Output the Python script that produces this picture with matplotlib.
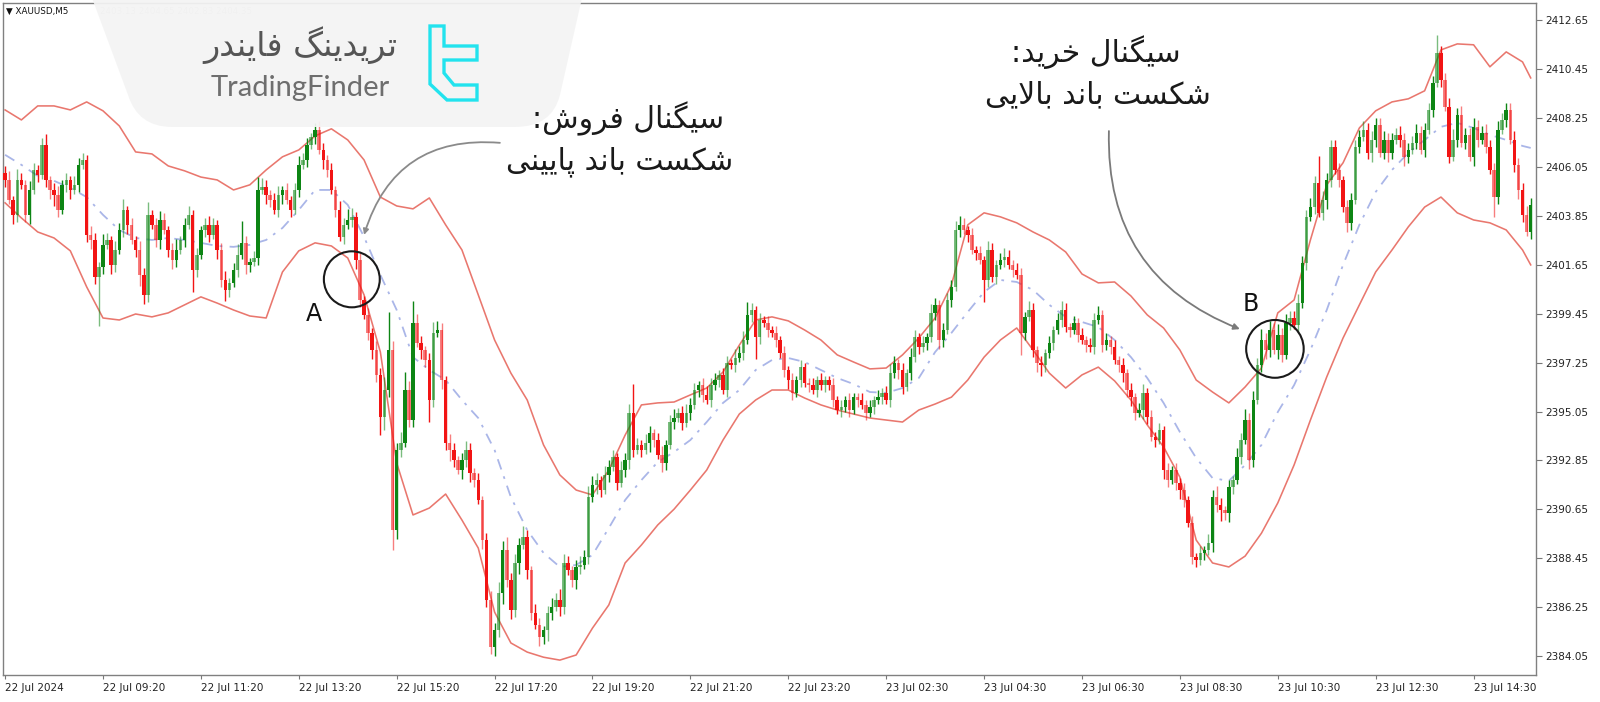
import matplotlib
matplotlib.use("Agg")
import matplotlib.pyplot as plt
import numpy as np
from matplotlib.patches import Ellipse, PathPatch, Polygon
from matplotlib.path import Path

# XAUUSD M5 bars (close of each bar, open = previous close)
first_open = 2405.80
closes = [
    2405.47, 2404.57, 2403.90, 2405.47, 2405.25, 2403.90, 2405.02, 2405.92, 2405.70, 2407.05,
    2405.47, 2405.02, 2404.80, 2404.12, 2405.25, 2405.47, 2405.02, 2405.25, 2406.15, 2406.37,
    2403.00, 2402.77, 2401.10, 2401.56, 2402.55,
    2402.77, 2401.65, 2402.32, 2403.22, 2404.12, 2403.45, 2402.77, 2402.32, 2401.20, 2400.30,
    2403.90, 2403.45, 2402.77, 2403.67, 2403.22, 2402.32, 2401.87, 2402.32, 2402.77, 2403.45,
    2403.90, 2401.42, 2402.10, 2403.22, 2403.45,
    2403.00, 2403.45, 2402.32, 2400.97, 2400.52, 2400.84, 2401.42, 2402.10, 2402.64, 2401.65,
    2401.78, 2401.96, 2405.02, 2405.16, 2404.80, 2404.57, 2404.12, 2404.80, 2405.02, 2404.57,
    2404.12, 2405.02, 2406.15, 2406.37, 2407.05,
    2407.40, 2407.72, 2406.82, 2406.37, 2405.92, 2405.02, 2404.12, 2402.91, 2403.45, 2403.67,
    2403.81, 2401.87, 2400.07, 2399.40, 2398.59, 2397.82, 2396.70, 2394.81, 2396.02, 2397.82,
    2389.72, 2393.32, 2393.64, 2396.02, 2394.67,
    2399.04, 2398.14, 2397.82, 2397.37, 2395.57, 2398.59, 2398.72, 2396.47, 2393.64, 2393.32,
    2392.87, 2392.42, 2392.87, 2393.32, 2392.29, 2391.97, 2391.07, 2389.27, 2386.57, 2384.46,
    2385.22, 2386.89, 2388.82, 2387.47, 2386.12,
    2388.24, 2389.05, 2389.41, 2387.92, 2385.99, 2385.45, 2384.90, 2385.22, 2385.99, 2386.26,
    2386.57, 2386.26, 2388.24, 2387.92, 2387.47, 2388.06, 2388.15, 2388.51, 2391.20, 2391.75,
    2391.97, 2391.52, 2392.20, 2392.56, 2393.00,
    2391.84, 2392.42, 2392.87, 2394.99, 2393.32, 2393.55, 2393.32, 2393.64, 2394.08, 2393.77,
    2393.10, 2392.73, 2393.55, 2394.58, 2394.76, 2394.99, 2394.54, 2394.99, 2395.35, 2396.02,
    2396.24, 2395.80, 2395.57, 2396.24, 2396.47,
    2396.70, 2396.02, 2397.23, 2397.15, 2397.46, 2397.68, 2398.27, 2399.40, 2399.62, 2398.40,
    2399.17, 2399.04, 2398.72, 2398.59, 2398.27, 2397.68, 2396.92, 2396.47, 2395.89, 2396.47,
    2397.05, 2396.34, 2396.24, 2396.02, 2396.47,
    2396.24, 2396.47, 2396.24, 2395.57, 2395.12, 2395.25, 2395.57, 2395.12, 2395.70, 2395.57,
    2395.35, 2394.99, 2395.25, 2395.57, 2395.70, 2395.89, 2395.57, 2396.78, 2397.23, 2396.92,
    2396.16, 2396.78, 2397.50, 2398.40, 2397.95,
    2398.14, 2398.40, 2399.49, 2399.85, 2398.27, 2398.72, 2400.07, 2400.66, 2403.22, 2403.45,
    2403.22, 2403.00, 2402.32, 2402.19, 2401.87, 2400.97, 2402.32, 2401.10, 2401.65, 2401.87,
    2402.01, 2401.65, 2401.42, 2401.20, 2398.59,
    2399.31, 2399.62, 2397.82, 2397.23, 2397.15, 2397.68, 2398.14, 2398.72, 2399.17, 2399.62,
    2398.85, 2398.72, 2399.04, 2398.50, 2398.27, 2398.04, 2397.95, 2399.17, 2399.40, 2398.04,
    2398.27, 2397.95, 2397.37, 2397.15, 2396.78,
    2396.02, 2395.70, 2394.99, 2395.12, 2395.89, 2394.81, 2393.91, 2393.77, 2394.22, 2392.42,
    2391.97, 2392.42, 2391.84, 2391.52, 2391.07, 2390.04, 2388.51, 2388.37, 2388.69, 2388.82,
    2389.14, 2391.20, 2390.85, 2390.62, 2390.49,
    2391.66, 2391.97, 2393.00, 2393.77, 2394.67, 2392.87, 2395.57, 2397.15, 2398.27, 2397.82,
    2398.72, 2397.82, 2398.50, 2397.60, 2399.04, 2399.26, 2398.95, 2399.93, 2401.74, 2403.81,
    2404.25, 2405.34, 2403.99, 2404.57, 2405.47,
    2406.96, 2405.92, 2405.47, 2404.25, 2403.54, 2404.57, 2406.96, 2407.40, 2407.72, 2406.69,
    2407.27, 2407.95, 2406.69, 2407.27, 2406.69, 2407.27, 2407.50, 2407.27, 2406.51, 2406.82,
    2407.14, 2407.59, 2406.82, 2407.72, 2408.62,
    2409.83, 2411.19, 2409.97, 2408.76, 2406.51, 2407.27, 2408.40, 2407.14, 2407.50, 2406.51,
    2407.86, 2407.27, 2407.59, 2406.96, 2405.92, 2404.70, 2407.72, 2408.17, 2408.62, 2407.27,
    2406.15, 2405.02, 2403.90, 2403.13, 2404.35,
]

# wick lengths above / below the body (price units)
upper_wick = [
    0.3, 0.4, 0.2, 0.5, 0.3, 0.2, 0.4, 0.3, 0.2, 0.3, 0.5, 0.2, 0.3, 0.4, 0.2, 0.3, 0.2, 0.4, 0.3, 0.3, 0.2, 0.4, 0.3, 0.2, 0.5,
    0.3, 0.2, 0.4, 0.3, 0.5, 0.2, 0.3, 0.2, 0.4, 0.3, 0.6, 0.2, 0.3, 0.4, 0.3, 0.2, 0.3, 0.5, 0.2, 0.3, 0.4, 0.2, 0.3, 0.2, 0.3,
    0.4, 0.3, 0.2, 0.3, 0.4, 0.2, 0.3, 0.5, 1.0, 0.3, 0.2, 0.3, 0.6, 0.4, 0.3, 0.2, 0.3, 0.4, 0.2, 0.3, 0.2, 0.3, 0.4, 0.3, 0.3,
    0.2, 0.3, 0.4, 0.3, 0.2, 0.3, 0.2, 0.4, 0.3, 0.5, 0.4, 0.2, 0.3, 0.2, 0.3, 0.2, 0.4, 0.3, 0.6, 1.7, 0.4, 0.3, 0.5, 0.8, 0.4,
    1.0, 0.4, 0.3, 0.2, 0.3, 0.5, 0.4, 0.3, 0.2, 0.4, 0.3, 0.2, 0.3, 0.4, 0.3, 0.2, 0.3, 0.2, 0.3, 0.4, 0.3, 0.5, 0.4, 0.6, 0.3,
    0.4, 0.3, 0.5, 0.3, 0.2, 0.4, 0.3, 0.2, 0.3, 0.4, 0.3, 0.5, 0.4, 0.3, 0.2, 0.3, 0.4, 0.3, 0.5, 0.4, 0.3, 0.2, 0.4, 0.3, 0.3,
    0.2, 0.4, 0.3, 0.4, 1.3, 0.3, 0.2, 0.4, 0.3, 0.2, 0.3, 0.4, 0.2, 0.3, 0.4, 0.2, 0.3, 0.4, 0.3, 0.3, 0.2, 0.3, 0.4, 0.3, 0.3,
    0.2, 0.3, 0.3, 0.2, 0.4, 0.3, 0.4, 0.6, 0.3, 0.2, 0.3, 0.2, 0.3, 0.2, 0.3, 0.2, 0.3, 0.2, 0.3, 0.2, 0.3, 0.2, 0.2, 0.3, 0.2,
    0.3, 0.2, 0.2, 0.3, 0.2, 0.3, 0.2, 0.3, 0.2, 0.2, 0.3, 0.2, 0.3, 0.2, 0.3, 0.2, 0.3, 0.4, 0.3, 0.2, 0.3, 0.2, 0.4, 0.3, 0.2,
    0.3, 0.2, 0.4, 0.3, 0.2, 0.3, 0.3, 0.3, 0.4, 0.4, 0.3, 0.2, 0.3, 0.2, 0.3, 0.2, 0.4, 0.3, 0.2, 0.3, 0.4, 0.3, 0.2, 0.3, 0.3,
    0.2, 0.4, 0.3, 0.2, 0.3, 0.2, 0.3, 0.2, 0.3, 0.4, 0.3, 0.2, 0.3, 0.2, 0.3, 0.2, 0.3, 0.3, 0.4, 0.2, 0.3, 0.2, 0.3, 0.2, 0.3,
    0.2, 0.3, 0.2, 0.3, 0.4, 0.2, 0.3, 0.2, 0.3, 0.2, 0.3, 0.2, 0.3, 0.2, 0.3, 0.2, 0.3, 0.2, 0.3, 0.2, 0.4, 0.3, 0.5, 0.3, 0.2,
    0.3, 0.2, 0.4, 0.3, 0.5, 0.3, 0.4, 0.3, 0.5, 0.3, 0.4, 0.3, 0.5, 0.3, 0.4, 0.3, 0.3, 0.4, 0.3, 0.3, 0.4, 0.3, 1.2, 0.4, 0.3,
    0.3, 0.3, 0.3, 0.2, 0.3, 0.3, 0.3, 0.3, 0.4, 0.3, 0.4, 0.3, 0.3, 0.4, 0.3, 0.3, 0.3, 0.4, 0.3, 0.3, 0.3, 0.4, 0.3, 0.3, 0.3,
    0.3, 0.8, 0.3, 0.3, 0.4, 0.5, 0.3, 0.4, 0.3, 0.3, 0.4, 0.3, 0.3, 0.4, 0.3, 0.3, 0.4, 0.3, 0.3, 0.3, 0.4, 0.3, 0.3, 0.4, 0.3,
]
lower_wick = [
    0.3, 0.2, 0.4, 0.3, 0.2, 0.3, 0.4, 0.2, 0.3, 0.2, 0.3, 0.4, 0.5, 0.3, 0.2, 0.3, 0.4, 0.2, 0.3, 0.2, 0.3, 0.4, 0.3, 2.2, 0.3,
    0.2, 0.4, 0.3, 0.2, 0.3, 0.4, 0.2, 0.3, 0.5, 0.4, 0.3, 0.2, 0.3, 0.4, 0.2, 0.3, 0.4, 0.3, 0.2, 0.3, 0.2, 1.0, 0.3, 0.2, 0.3,
    0.3, 0.2, 0.4, 0.3, 0.5, 0.3, 0.2, 0.3, 0.2, 0.4, 0.3, 0.2, 0.3, 0.2, 0.4, 0.3, 0.2, 0.3, 0.4, 0.2, 0.3, 0.2, 0.3, 0.2, 0.3,
    0.2, 0.3, 0.2, 0.4, 0.3, 0.2, 0.3, 0.2, 0.3, 0.2, 0.3, 0.4, 0.3, 0.2, 0.3, 0.4, 0.3, 0.8, 0.6, 0.3, 0.9, 0.4, 0.3, 0.2, 0.3,
    0.3, 0.2, 0.4, 0.3, 1.0, 0.3, 0.2, 0.4, 0.3, 0.5, 0.3, 0.2, 0.4, 0.3, 0.4, 0.3, 0.2, 0.4, 0.3, 0.3, 0.4, 0.3, 0.5, 0.3, 0.4,
    0.3, 0.5, 0.2, 0.4, 0.3, 0.2, 0.4, 0.3, 0.5, 0.3, 0.2, 0.4, 0.3, 0.2, 0.3, 0.4, 0.3, 0.2, 0.3, 0.2, 0.4, 0.3, 0.2, 0.3, 0.2,
    0.3, 0.2, 0.3, 0.4, 0.3, 0.2, 0.3, 0.2, 0.4, 0.3, 0.2, 0.4, 0.3, 0.2, 0.3, 0.2, 0.3, 0.2, 0.3, 0.2, 0.3, 0.3, 0.2, 0.3, 0.2,
    0.3, 0.2, 0.3, 0.2, 0.3, 0.2, 0.3, 0.2, 0.3, 1.0, 0.3, 0.2, 0.3, 0.2, 0.3, 0.2, 0.3, 0.4, 0.3, 0.2, 0.3, 0.2, 0.3, 0.2, 0.3,
    0.2, 0.3, 0.2, 0.3, 0.2, 0.3, 0.2, 0.3, 0.2, 0.3, 0.2, 0.3, 0.2, 0.3, 0.2, 0.3, 0.2, 0.3, 0.2, 0.4, 0.3, 0.2, 0.3, 0.2, 0.3,
    0.2, 0.3, 0.2, 0.3, 0.4, 0.3, 0.2, 0.3, 0.2, 0.3, 0.2, 0.3, 0.2, 0.3, 0.2, 1.0, 0.3, 0.2, 0.3, 0.2, 0.3, 0.2, 0.3, 0.2, 1.0,
    0.3, 0.2, 0.3, 0.4, 0.5, 0.3, 0.2, 0.3, 0.2, 0.3, 0.2, 0.3, 0.2, 0.3, 0.2, 0.3, 0.2, 0.3, 0.2, 0.3, 0.2, 0.3, 0.2, 0.3, 0.4,
    0.3, 0.4, 0.3, 0.2, 0.4, 0.3, 0.2, 0.3, 0.2, 0.4, 0.3, 0.2, 0.3, 0.4, 0.3, 0.2, 0.3, 0.3, 0.2, 0.3, 0.2, 0.4, 0.3, 0.5, 0.3,
    0.4, 0.3, 0.2, 0.3, 0.2, 0.4, 0.3, 0.2, 0.3, 0.4, 0.3, 0.2, 0.4, 0.3, 0.2, 0.3, 0.2, 0.3, 0.2, 0.3, 0.2, 0.3, 0.2, 0.3, 0.4,
    0.3, 0.2, 0.3, 0.2, 0.4, 0.3, 0.2, 0.3, 0.2, 0.3, 0.4, 0.3, 0.2, 0.3, 0.4, 0.3, 0.2, 0.3, 0.4, 0.3, 0.2, 0.3, 0.2, 0.3, 0.2,
    0.3, 0.2, 0.3, 0.2, 0.3, 0.2, 0.3, 0.2, 0.3, 0.2, 0.4, 0.3, 0.2, 0.3, 0.2, 0.9, 0.3, 0.2, 0.3, 0.2, 0.3, 0.4, 0.3, 0.2, 0.3,
]

# Bollinger bands, read every 4th bar (plus the last one)
band_upper = [
    2408.62, 2408.17, 2408.80, 2408.80, 2408.62, 2408.98, 2408.58, 2407.90, 2406.73, 2406.64,
    2406.10, 2405.88, 2405.60, 2405.47, 2405.02, 2405.25, 2405.92, 2406.51, 2406.82, 2407.45,
    2407.77, 2407.27, 2406.37, 2404.70, 2404.30, 2404.17, 2404.66, 2403.45, 2402.32, 2400.30,
    2398.27, 2396.78, 2395.57, 2393.55, 2392.20, 2391.52, 2391.30, 2392.42, 2393.99, 2395.35,
    2395.44, 2395.48, 2395.80, 2396.11, 2396.83, 2398.04, 2399.17, 2399.31, 2399.13, 2398.72,
    2398.27, 2397.60, 2397.28, 2396.97, 2397.01, 2397.60, 2398.36, 2399.26, 2400.75, 2403.45,
    2403.99, 2403.81, 2403.54, 2403.13, 2402.77, 2402.23, 2401.24, 2400.84, 2400.88, 2400.25,
    2399.40, 2398.81, 2397.82, 2396.47, 2395.93, 2395.44, 2396.16, 2397.01, 2399.49, 2400.07,
    2402.77, 2405.25, 2406.24, 2407.81, 2408.58, 2408.98, 2409.12, 2409.48, 2411.32, 2411.59,
    2411.55, 2410.56, 2411.23, 2410.78, 2410.06,
]
band_middle = [
    2406.60, 2406.15, 2405.65, 2405.43, 2405.11, 2404.70, 2403.90, 2403.22, 2402.86, 2402.77,
    2402.86, 2402.77, 2402.64, 2402.50, 2402.46, 2402.55, 2402.77, 2403.31, 2404.12, 2405.02,
    2405.02, 2404.35, 2402.91, 2401.20, 2399.62, 2397.50, 2396.92, 2396.47, 2395.57, 2394.76,
    2393.32, 2391.20, 2389.72, 2388.69, 2388.06, 2388.15, 2388.60, 2389.81, 2391.07, 2391.97,
    2392.78, 2393.23, 2393.77, 2394.58, 2395.44, 2396.02, 2396.92, 2397.37, 2397.46, 2397.28,
    2396.92, 2396.56, 2396.29, 2395.93, 2395.89, 2396.11, 2396.56, 2397.73, 2398.59, 2399.53,
    2400.43, 2400.97, 2400.88, 2400.52, 2399.85, 2399.31, 2399.08, 2398.85, 2398.27, 2397.50,
    2396.56, 2395.44, 2394.13, 2392.96, 2392.06, 2391.93, 2392.65, 2393.55, 2395.03, 2396.24,
    2397.82, 2399.62, 2401.65, 2403.45, 2404.93, 2405.92, 2406.69, 2407.27, 2407.86, 2408.04,
    2407.81, 2407.50, 2407.27, 2407.00, 2406.91,
]
band_lower = [
    2404.44, 2403.76, 2403.13, 2402.86, 2402.28, 2400.66, 2399.26, 2399.17, 2399.44, 2399.31,
    2399.49, 2399.85, 2400.21, 2399.93, 2399.62, 2399.35, 2399.26, 2401.33, 2402.28, 2402.64,
    2402.50, 2401.96, 2400.30, 2397.73, 2392.74, 2390.40, 2390.71, 2391.34, 2390.17, 2388.91,
    2386.03, 2384.64, 2384.23, 2384.00, 2383.87, 2384.10, 2385.31, 2386.35, 2388.24, 2389.05,
    2389.95, 2390.66, 2391.52, 2392.42, 2393.77, 2394.94, 2395.57, 2396.02, 2396.02, 2395.66,
    2395.35, 2395.12, 2394.94, 2394.76, 2394.67, 2394.58, 2395.12, 2395.39, 2395.70, 2396.47,
    2397.50, 2398.27, 2398.81, 2397.82, 2396.78, 2396.11, 2396.70, 2397.05, 2396.43, 2395.57,
    2394.45, 2393.46, 2392.10, 2389.27, 2388.24, 2388.06, 2388.55, 2389.58, 2390.94, 2392.65,
    2394.67, 2396.61, 2398.36, 2399.85, 2401.33, 2402.32, 2403.36, 2404.25, 2404.70, 2403.99,
    2403.67, 2403.54, 2403.22, 2402.32, 2401.65,
]

time_labels = ["22 Jul 2024", "22 Jul 09:20", "22 Jul 11:20", "22 Jul 13:20",
               "22 Jul 15:20", "22 Jul 17:20", "22 Jul 19:20", "22 Jul 21:20",
               "22 Jul 23:20", "23 Jul 02:30", "23 Jul 04:30", "23 Jul 06:30",
               "23 Jul 08:30", "23 Jul 10:30", "23 Jul 12:30", "23 Jul 14:30"]
price_ticks = [2384.05, 2386.25, 2388.45, 2390.65, 2392.85, 2395.05, 2397.25,
               2399.45, 2401.65, 2403.85, 2406.05, 2408.25, 2410.45, 2412.65]

sell_title = "سیگنال فروش:"
sell_text = "شکست باند پایینی"
buy_title = "سیگنال خرید:"
buy_text = "شکست باند بالایی"
brand_fa = "تریدینگ فایندر"
brand_en = "TradingFinder"


# matplotlib has no arabic shaping, so pick presentation forms by hand
DUAL = {
    'ب': '\uFE8F\uFE90\uFE91\uFE92', 'ت': '\uFE95\uFE96\uFE97\uFE98',
    'خ': '\uFEA5\uFEA6\uFEA7\uFEA8', 'س': '\uFEB1\uFEB2\uFEB3\uFEB4',
    'ش': '\uFEB5\uFEB6\uFEB7\uFEB8', 'ف': '\uFED1\uFED2\uFED3\uFED4',
    'ل': '\uFEDD\uFEDE\uFEDF\uFEE0', 'ن': '\uFEE5\uFEE6\uFEE7\uFEE8',
    'پ': '\uFB56\uFB57\uFB58\uFB59', 'ک': '\uFB8E\uFB8F\uFB90\uFB91',
    'گ': '\uFB92\uFB93\uFB94\uFB95', 'ی': '\uFBFC\uFBFD\uFBFE\uFBFF',
}
RIGHT = {'ا': '\uFE8D\uFE8E', 'د': '\uFEA9\uFEAA', 'ر': '\uFEAD\uFEAE',
         'و': '\uFEED\uFEEE'}


def shape_fa(text):
    out = []
    prev_joins = False
    i = 0
    while i < len(text):
        ch = text[i]
        nxt = text[i + 1] if i + 1 < len(text) else ''
        if ch == 'ل' and nxt == 'ا':
            out.append('\uFEFC' if prev_joins else '\uFEFB')
            prev_joins = False
            i += 2
            continue
        if ch in DUAL:
            to_next = nxt in DUAL or nxt in RIGHT
            forms = DUAL[ch]
            if prev_joins and to_next:
                out.append(forms[3])
            elif prev_joins:
                out.append(forms[1])
            elif to_next:
                out.append(forms[2])
            else:
                out.append(forms[0])
            prev_joins = to_next
        elif ch in RIGHT:
            out.append(RIGHT[ch][1] if prev_joins else RIGHT[ch][0])
            prev_joins = False
        else:
            out.append(ch)
            prev_joins = False
        i += 1
    return ''.join(reversed(out))


n_bars = len(closes)
bars = np.arange(n_bars)
close_arr = np.array(closes)
open_arr = np.array([first_open] + closes[:-1])
high_arr = np.maximum(open_arr, close_arr) + np.array(upper_wick)
low_arr = np.minimum(open_arr, close_arr) - np.array(lower_wick)
band_bars = np.append(np.arange(0, n_bars - 2, 4), n_bars - 1)

fig = plt.figure(figsize=(16, 7.02), dpi=100)
fig.patch.set_facecolor('white')
ax = fig.add_axes([3 / 1600, 27 / 702, 1533 / 1600, 672 / 702])

# bands under the candles
ax.plot(band_bars, band_upper, color='#e9776e', lw=1.15, zorder=1)
ax.plot(band_bars, band_lower, color='#e9776e', lw=1.15, zorder=1)
ax.plot(band_bars, band_middle, color='#aab6e8', lw=1.3, zorder=1,
        dashes=(6, 4, 1.5, 4))

# candles: the screenshot is resampled, every other bar looks washed out
bull = close_arr >= open_arr
alpha = np.where(bars % 2 == 0, 1.0, 0.55)
colors = [((0.05, 0.52, 0.08, a) if b else (0.95, 0.08, 0.08, a))
          for b, a in zip(bull, alpha)]
ax.vlines(bars, low_arr, high_arr, colors=colors, lw=1.0, zorder=2)
body = np.maximum(np.abs(close_arr - open_arr), 0.06)
ax.bar(bars, body, bottom=np.minimum(open_arr, close_arr), width=0.86,
       color=colors, linewidth=0, zorder=3)

ax.set_xlim(-0.51, 375.3)
ax.set_ylim(2383.20, 2413.43)
ax.set_xticks(np.arange(0, 24 * len(time_labels), 24))
ax.set_xticklabels(time_labels, ha='left')
ax.set_yticks(price_ticks)
ax.set_yticklabels([f"{p:.2f}" for p in price_ticks])
ax.yaxis.tick_right()
ax.tick_params(axis='x', length=3, pad=3, labelsize=7.5, color='#777777',
               labelcolor='#222222')
ax.tick_params(axis='y', length=4, pad=3, labelsize=7.5, color='#777777',
               labelcolor='#222222')
for spine in ax.spines.values():
    spine.set_color('#808080')
    spine.set_linewidth(1)

# signal markers
ax.add_patch(Ellipse((85.0, 2401.0), 13.7, 2.52, fill=False, ec='#1a1a1a',
                     lw=1.5, zorder=6))
ax.add_patch(Ellipse((311.3, 2397.87), 14.1, 2.6, fill=False, ec='#1a1a1a',
                     lw=1.5, zorder=6))
ax.text(75.7, 2399.44, "A", fontsize=17, ha='center', va='center',
        color='#111111', zorder=6)
ax.text(305.4, 2399.9, "B", fontsize=17, ha='center', va='center',
        color='#111111', zorder=6)
ax.annotate('', xy=(88.0, 2403.0), xytext=(121.3, 2407.14),
            arrowprops=dict(arrowstyle='-|>', color='#8a8a8a', lw=1.3,
                            mutation_scale=8, shrinkA=0, shrinkB=0,
                            connectionstyle='arc3,rad=0.4'), zorder=6)
ax.annotate('', xy=(302.7, 2398.76), xytext=(270.6, 2407.67),
            arrowprops=dict(arrowstyle='-|>', color='#7a7a7a', lw=1.3,
                            mutation_scale=9, shrinkA=0, shrinkB=0,
                            connectionstyle='arc3,rad=0.35'), zorder=6)

# overlay in pixel units for the header, logo and captions
over = fig.add_axes([0, 0, 1, 1], zorder=5)
over.set_xlim(0, 1600)
over.set_ylim(702, 0)
over.axis('off')
over.patch.set_alpha(0)

over.text(6, 11, "\u25BC XAUUSD,M5", fontsize=6.3, va='center',
          color='#111111', zorder=1)
over.text(100, 11, f"{open_arr[-1]:.2f} {high_arr[-1]:.2f} "
          f"{low_arr[-1]:.2f} {close_arr[-1]:.2f}", fontsize=6.3,
          va='center', color='#c4c4c4', zorder=1)

verts = [(92, -2), (128, 95), (138, 127), (172, 127), (515, 127),
         (552, 127), (560, 95), (582, -2), (92, -2)]
codes = [Path.MOVETO, Path.LINETO, Path.CURVE3, Path.CURVE3, Path.LINETO,
         Path.CURVE3, Path.CURVE3, Path.LINETO, Path.CLOSEPOLY]
over.add_patch(PathPatch(Path(verts, codes), fc='#f4f4f4', ec='none',
                         alpha=0.93, zorder=2))

icon = [(430, 26), (444, 26), (444, 46), (477, 46), (477, 60), (444, 60),
        (444, 73), (454, 85), (477, 85), (477, 100), (447, 100), (430, 84)]
over.add_patch(Polygon(icon, closed=True, fill=False, ec='#22e3ee', lw=2.4,
                       joinstyle='miter', zorder=3))
over.text(300, 45, shape_fa(brand_fa), fontsize=24, ha='center', va='center',
          color='#555555', family='DejaVu Sans', zorder=3)
over.text(300, 88, brand_en, fontsize=21, ha='center', va='center',
          color='#6e6e6e', family='Lato', zorder=3)

over.text(628, 119, shape_fa(sell_title), fontsize=21.5, ha='center',
          va='center', color='#1a1a1a', family='DejaVu Sans')
over.text(620, 162, shape_fa(sell_text), fontsize=21.5, ha='center',
          va='center', color='#1a1a1a', family='DejaVu Sans')
over.text(1096, 52, shape_fa(buy_title), fontsize=21.5, ha='center',
          va='center', color='#1a1a1a', family='DejaVu Sans')
over.text(1098, 95, shape_fa(buy_text), fontsize=21.5, ha='center',
          va='center', color='#1a1a1a', family='DejaVu Sans')

fig.savefig('out.png', dpi=100)
